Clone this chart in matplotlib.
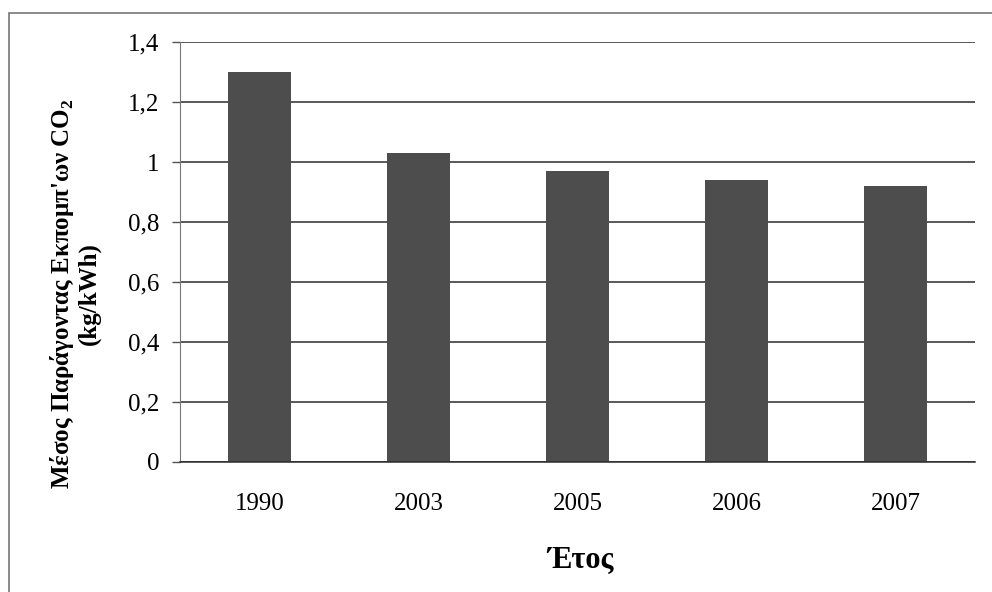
import matplotlib
matplotlib.use("Agg")
import matplotlib.pyplot as plt
from matplotlib.patches import Rectangle

plt.rcParams['font.family'] = ['Liberation Serif', 'DejaVu Serif']
plt.rcParams['mathtext.fontset'] = 'custom'
plt.rcParams['mathtext.rm'] = 'Liberation Serif'
plt.rcParams['mathtext.bf'] = 'Liberation Serif:bold'

# data
years = ["1990", "2003", "2005", "2006", "2007"]
emission_factor = [1.30, 1.03, 0.97, 0.94, 0.92]
y_ticks = [0, 0.2, 0.4, 0.6, 0.8, 1.0, 1.2, 1.4]
y_tick_labels = ["0", "0,2", "0,4", "0,6", "0,8", "1", "1,2", "1,4"]

fig = plt.figure(figsize=(9.92, 5.92), dpi=100)
ax = fig.add_axes([0.1815, 0.2196, 0.8015, 0.7094])

# outer frame (only left/top visible in the scan)
fig.patches.append(Rectangle((0.009, -0.05), 1.2, 1.05 - 13 / 592,
                             transform=fig.transFigure, fill=False,
                             edgecolor="#777777", linewidth=1.2))

ax.set_axisbelow(True)
ax.grid(axis="y", color="#2b2b2b", linewidth=1.1)
ax.bar(range(len(years)), emission_factor, width=0.4, color="#4d4d4d")

ax.set_xlim(-0.5, len(years) - 0.5)
ax.set_ylim(0, 1.4)
ax.set_yticks(y_ticks)
ax.set_yticklabels(y_tick_labels, fontsize=18)
ax.set_xticks(range(len(years)))
ax.set_xticklabels(years, fontsize=18)
ax.tick_params(axis="x", length=0, pad=22)
ax.tick_params(axis="y", length=6, width=1, color="#555555", pad=9)

for side in ("top", "right"):
    ax.spines[side].set_visible(False)
ax.spines["left"].set_color("#777777")
ax.spines["bottom"].set_color("#2b2b2b")
ax.spines["bottom"].set_linewidth(1.1)

ax.set_ylabel("Μέσος Παράγοντας Εκπομπ'ων CO$_\\mathbf{2}$\n(kg/kWh)",
              fontsize=18, fontweight="bold", linespacing=1.05)
ax.yaxis.set_label_coords(-0.1, 0.4)
ax.set_xlabel("Έτος", fontsize=22, fontweight="bold")
ax.xaxis.set_label_coords(0.503, -0.2)

fig.savefig("out.png", dpi=100)
